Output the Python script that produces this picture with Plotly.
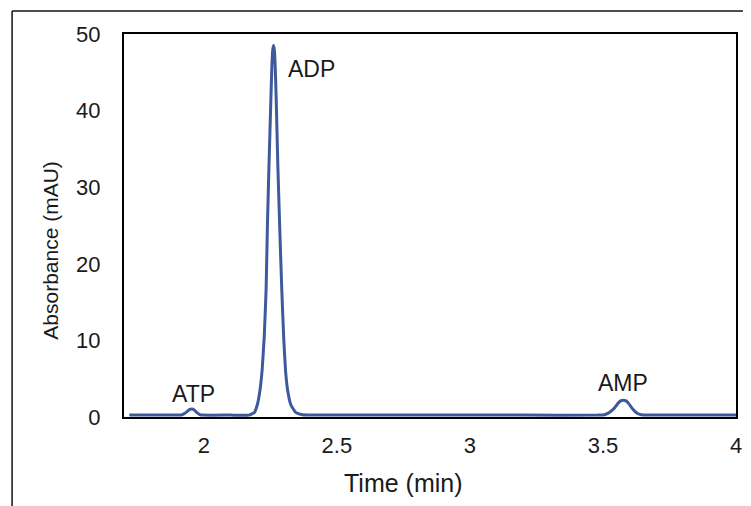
import plotly.graph_objects as go

# Chromatogram points (time in min, absorbance in mAU)
time_min = [1.72, 1.80, 1.90, 1.915, 1.925, 1.937, 1.947, 1.955, 1.963, 1.973, 1.985, 1.995,
            2.10, 2.17, 2.19, 2.201, 2.211, 2.219, 2.227, 2.234, 2.239, 2.245, 2.252, 2.256,
            2.259, 2.262, 2.265, 2.268, 2.272, 2.278, 2.285, 2.293, 2.300, 2.307, 2.315, 2.327,
            2.345, 2.37, 2.45, 2.80, 3.20, 3.48, 3.506, 3.52, 3.535, 3.545, 3.556, 3.566,
            3.576, 3.587, 3.597, 3.607, 3.618, 3.630, 3.644, 3.67, 3.80, 4.00]
absorbance = [0.25, 0.25, 0.25, 0.27, 0.4, 0.7, 1.0, 1.05, 0.95, 0.6, 0.32, 0.25,
              0.25, 0.25, 0.6, 1.6, 3.5, 6.1, 10.5, 16.6, 25.0, 33.0, 41.5, 46.0,
              47.9, 48.5, 47.9, 46.0, 41.5, 33.0, 25.0, 16.6, 10.5, 6.1, 3.5, 1.6,
              0.6, 0.3, 0.25, 0.25, 0.25, 0.25, 0.3, 0.5, 0.9, 1.25, 1.75, 2.1,
              2.2, 2.1, 1.75, 1.25, 0.8, 0.45, 0.3, 0.25, 0.25, 0.25]

peak_names = ["ATP", "ADP", "AMP"]
peak_label_x = [1.961, 2.405, 3.576]
peak_label_y = [3.0, 45.4, 4.4]

x_ticks = [2, 2.5, 3, 3.5, 4]
y_ticks = [0, 10, 20, 30, 40, 50]

FONT = "Liberation Sans, Arial, sans-serif"
INK = "#1a1a1a"

fig = go.Figure()
fig.add_trace(go.Scatter(x=time_min, y=absorbance, mode="lines",
                         line=dict(color="#3E5A9B", width=3, shape="spline", smoothing=0.4),
                         hoverinfo="x+y", showlegend=False))

for name, lx, ly in zip(peak_names, peak_label_x, peak_label_y):
    fig.add_annotation(x=lx, y=ly, text=name, showarrow=False,
                       font=dict(family=FONT, size=23, color=INK))

# axis titles (placed as in the reference, off-centre)
fig.add_annotation(xref="paper", yref="paper", x=(406 - 124) / 618, y=(417 - 483) / 383,
                   text="Time (min)", showarrow=False, xanchor="center", yanchor="middle",
                   font=dict(family=FONT, size=25, color=INK))
fig.add_annotation(xref="paper", yref="paper", x=(50 - 124) / 618, y=(417 - 250) / 383,
                   text="Absorbance (mAU)", showarrow=False, textangle=-90,
                   xanchor="center", yanchor="middle",
                   font=dict(family=FONT, size=21, color=INK))

# outer frame (left and top edges)
fx = (3 - 116) / 618
fy = 1 + (26 - 3) / 383
fig.add_shape(type="line", xref="paper", yref="paper",
              x0=fx, x1=fx, y0=fy, y1=-0.3,
              line=dict(color="#111111", width=1.5))
fig.add_shape(type="line", xref="paper", yref="paper",
              x0=fx, x1=1.1, y0=fy, y1=fy,
              line=dict(color="#111111", width=1.5))

# page body has an 8px margin: size the figure to end exactly at 751x506
fig.update_layout(
    width=743, height=498,
    margin=dict(l=116, r=9, t=26, b=89),
    paper_bgcolor="white", plot_bgcolor="white",
    font=dict(family=FONT, size=22, color=INK),
    xaxis=dict(range=[1.7, 4.0], tickvals=x_ticks, ticktext=[str(v) for v in x_ticks],
               showgrid=False, zeroline=False, showline=True, linecolor="black",
               linewidth=2, mirror=True, ticks="outside", ticklen=8,
               tickcolor="rgba(0,0,0,0)"),
    yaxis=dict(range=[0, 50], tickvals=y_ticks, showgrid=False, zeroline=False,
               showline=True, linecolor="black", linewidth=2, mirror=True,
               ticks="outside", ticklen=17, tickcolor="rgba(0,0,0,0)"),
)

fig.write_html("out.html")
